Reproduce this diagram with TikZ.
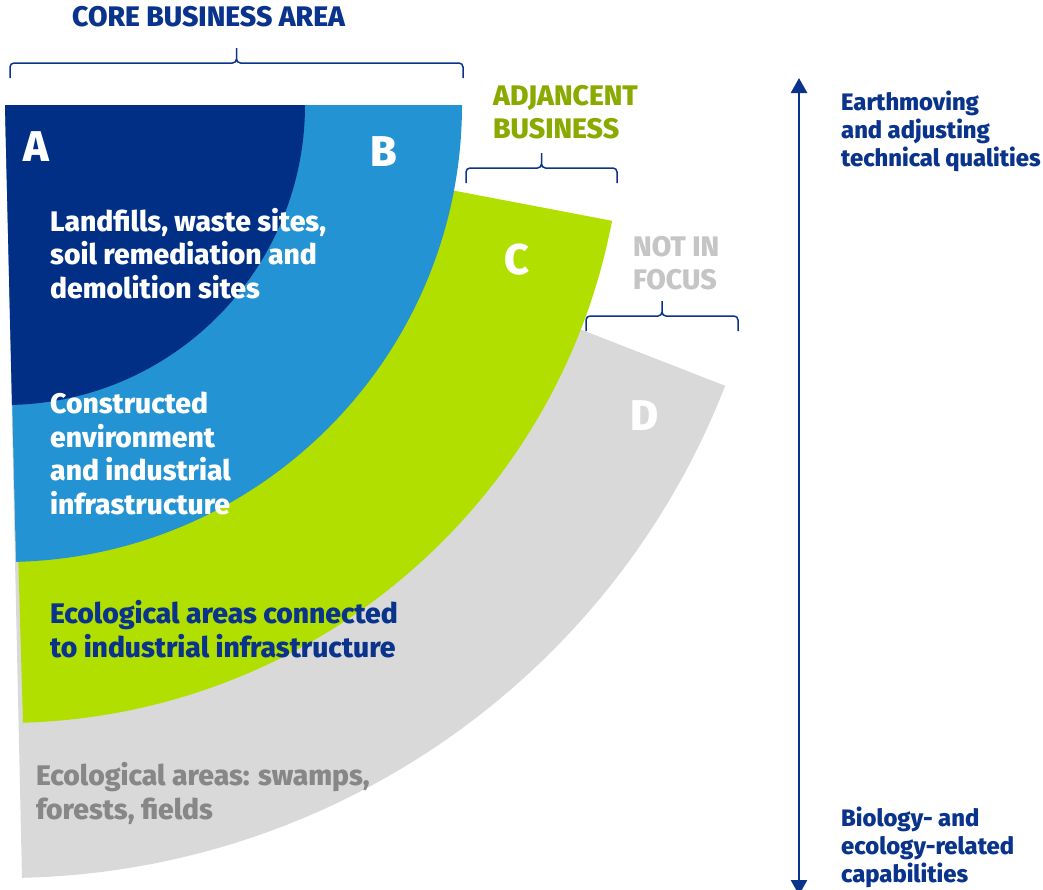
\documentclass[tikz,border=0pt]{standalone}
\usepackage{fontspec}
\setmainfont{Fira Sans}[BoldFont={Fira Sans ExtraBold}]
\usepackage{tikz}
\usetikzlibrary{arrows.meta, calc}

\definecolor{areaA}{HTML}{022F86}
\definecolor{areaB}{HTML}{2493D3}
\definecolor{areaC}{HTML}{B0DF00}
\definecolor{areaD}{HTML}{D9D9D9}
\definecolor{navy}{HTML}{0A348C}
\definecolor{olive}{HTML}{8AAA00}
\definecolor{lightgrey}{HTML}{C5C5C5}
\definecolor{midgrey}{HTML}{878787}

\tikzset{
    body/.style={font=\bfseries\fontsize{28.3}{33.4}\selectfont, align=left, anchor=base west, inner sep=0pt},
    heading/.style={font=\bfseries\fontsize{28.3}{33}\selectfont, align=left, anchor=base west, inner sep=0pt},
    letter/.style={font=\bfseries\fontsize{43}{43}\selectfont, text=white, anchor=base, inner sep=0pt},
    side/.style={font=\bfseries\fontsize{23.8}{28}\selectfont, text=navy, align=left, anchor=base west, inner sep=0pt},
    bracket/.style={draw=navy, line width=1.5pt},
}

% brace between two end points, tip pointing up
\newcommand{\areabrace}[2]{%
    \draw[bracket] (#1) -- ++(0,11) arc[start angle=180, end angle=90, radius=4]
        -- ($(#1)!0.5!(#2)+(-4,15)$) arc[start angle=-90, end angle=0, radius=4]
        -- ++(0,11) -- ++(0,-11) arc[start angle=180, end angle=270, radius=4]
        -- ($(#2)+(-4,15)$) arc[start angle=90, end angle=0, radius=4] -- (#2);
}

\begin{document}
\begin{tikzpicture}[x=1pt, y=1pt]
        \useasboundingbox (0,0) rectangle (1043,-889);
        \clip (0,0) rectangle (1043,-889);

        % Define the areas
        \coordinate (O) at (5,-105);
        \fill[areaD] (O) -- ++(-21.3:773) arc[start angle=-21.3, end angle=-88.74, radius=773] -- cycle;
        \fill[areaC] (O) -- ++(-10.8:618) arc[start angle=-10.8, end angle=-88.33, radius=618] -- cycle;
        \fill[areaB] (O) -- ++(0:457) arc[start angle=0, end angle=-88.62, radius=457] -- cycle;
        \fill[areaA] (O) -- ++(0:300) arc[start angle=0, end angle=-88.66, radius=300] -- cycle;

        % Letters
        \node[letter, anchor=base west] (letA) at (23,-161) {A};
        \node[letter] (letB) at (384,-166) {B};
        \node[letter] (letC) at (517,-274) {C};
        \node[letter] (letD) at (645,-430) {D};

        % Area texts (placed by the baseline of the last line)
        \node[body, text=white] (textA) at (50,-298) {Landfills, waste sites,\\soil remediation and\\demolition sites};
        \node[body, text=white] (textB) at (50,-514) {Constructed\\environment\\and industrial\\infrastructure};
        \node[body, text=navy] (textC) at (50,-657) {Ecological areas connected\\to industrial infrastructure};
        \node[body, text=midgrey] (textD) at (36,-819) {Ecological areas: swamps,\\forests, fields};

        % Headings
        \node[heading, text=navy] (core) at (72,-26) {CORE BUSINESS AREA};
        \node[heading, text=olive] (adjacent) at (493,-138) {ADJANCENT\\BUSINESS};
        \node[heading, text=lightgrey] (nofocus) at (633,-289) {NOT IN\\FOCUS};

        % Draw braces
        \coordinate (coreL) at (10,-78);
        \coordinate (coreR) at (463,-78);
        \coordinate (adjL) at (466,-183);
        \coordinate (adjR) at (617,-183);
        \coordinate (nofL) at (586,-331);
        \coordinate (nofR) at (738,-331);
        \areabrace{coreL}{coreR}
        \areabrace{adjL}{adjR}
        \areabrace{nofL}{nofR}

        % Draw scale
        \coordinate (scaleTop) at (799,-78);
        \coordinate (scaleBot) at (799,-895);
        \draw[navy, line width=2.6pt, {Triangle[length=15pt, width=16pt]}-{Triangle[length=15pt, width=16pt]}] (scaleTop) -- (scaleBot);
        \node[side] (technical) at (841,-166) {Earthmoving\\and adjusting\\technical qualities};
        \node[side] (biology) at (841,-882) {Biology- and\\ecology-related\\capabilities};
    \end{tikzpicture}
\end{document}
